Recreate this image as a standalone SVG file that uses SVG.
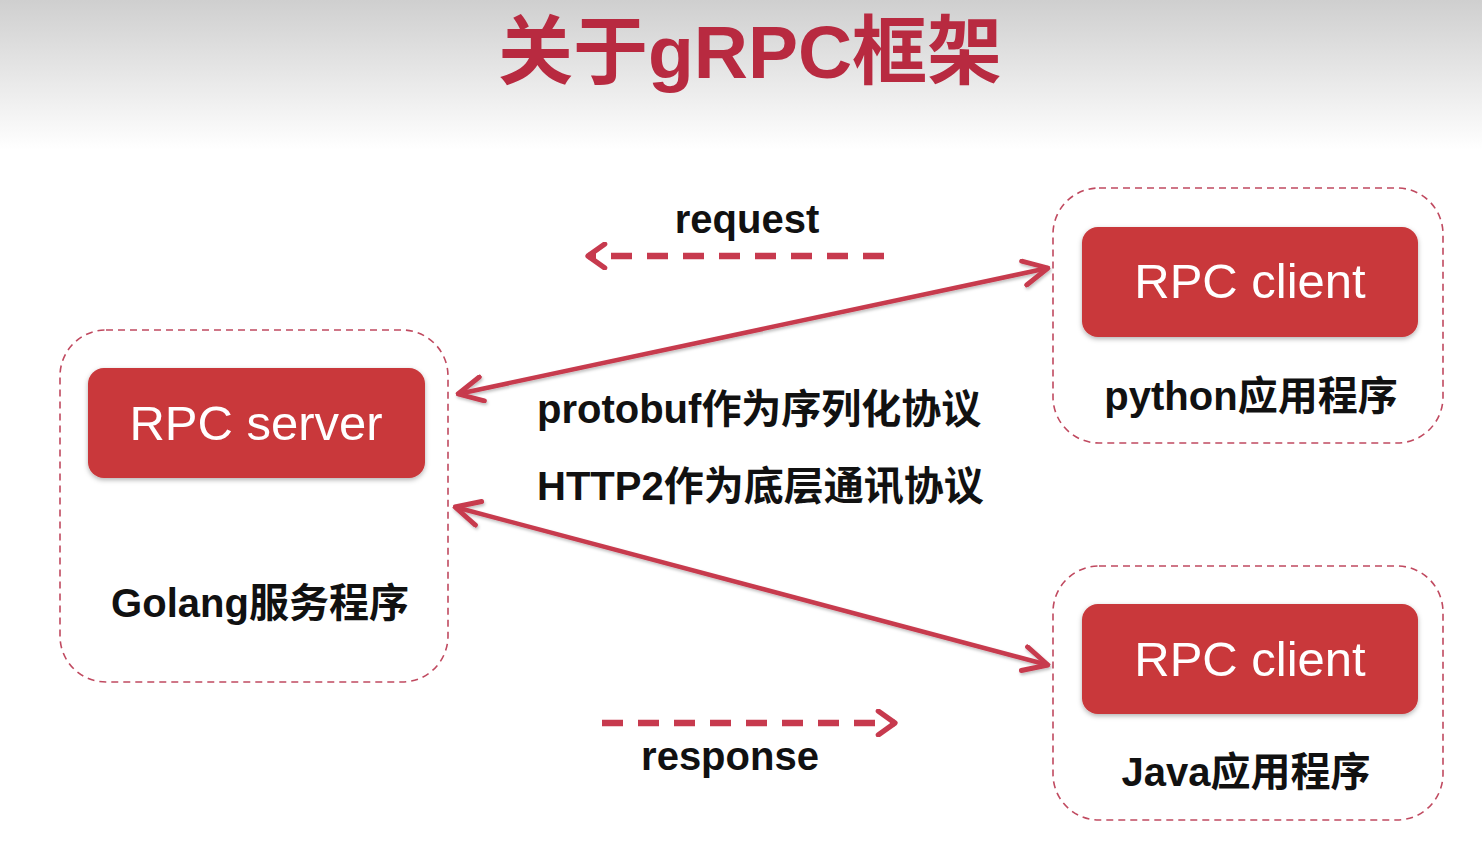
<svg xmlns="http://www.w3.org/2000/svg" width="1482" height="841" viewBox="0 0 1482 841">
<defs>
<linearGradient id="hdr" x1="0" y1="0" x2="0" y2="1">
<stop offset="0" stop-color="#cfcfcf"/>
<stop offset="1" stop-color="#ffffff"/>
</linearGradient>
<filter id="sh" x="-10%" y="-10%" width="120%" height="130%">
<feDropShadow dx="0" dy="2" stdDeviation="2.5" flood-color="#000" flood-opacity="0.3"/>
</filter>
<filter id="lsh" x="-5%" y="-20%" width="110%" height="140%">
<feDropShadow dx="1" dy="2" stdDeviation="1.5" flood-color="#000" flood-opacity="0.25"/>
</filter>
<marker id="ah" viewBox="0 0 12 12" refX="11" refY="6" markerWidth="6.5" markerHeight="6.5" orient="auto-start-reverse" markerUnits="strokeWidth">
<path d="M1,1 L11,6 L1,11" fill="none" stroke="#c73a4e" stroke-width="2" stroke-linecap="round" stroke-linejoin="round"/>
</marker>
<marker id="ahd" viewBox="0 0 12 12" refX="10" refY="6" markerWidth="4.4" markerHeight="4.4" orient="auto" markerUnits="strokeWidth">
<path d="M3,1 L10,6 L3,11" fill="none" stroke="#c73a4e" stroke-width="2.2" stroke-linecap="round" stroke-linejoin="round"/>
</marker>
</defs>
<style>
.outer{fill:#fff;stroke:#c04a60;stroke-width:1.6;stroke-dasharray:7 5}
.redbox{fill:#c9373a;filter:url(#sh)}
.btn{font-family:"Liberation Sans","Noto Sans CJK SC",sans-serif;fill:#fff;font-size:49px;text-anchor:middle}
.lbl{font-family:"Liberation Sans","Noto Sans CJK SC",sans-serif;font-weight:bold;fill:#111;font-size:40px}
.mid{text-anchor:middle}
.conn{fill:none;stroke:#c73a4e;stroke-width:4.5;filter:url(#lsh)}
.dash{fill:none;stroke:#c73a4e;stroke-width:6.5;stroke-dasharray:21 15}
</style>
<rect x="0" y="0" width="1482" height="150" fill="url(#hdr)"/>
<rect x="0" y="150" width="1482" height="691" fill="#fff"/>
<text x="750" y="78" font-family="Liberation Sans,'Noto Sans CJK SC',sans-serif" font-weight="bold" font-size="75" fill="#b82a40" text-anchor="middle">关于gRPC框架</text>

<g id="server">
<rect class="outer" x="60" y="330" width="388" height="352" rx="46"/>
<rect class="redbox" x="88" y="368" width="337" height="110" rx="16"/>
<text class="btn" x="256" y="440">RPC server</text>
<text class="lbl mid" x="260" y="617">Golang服务程序</text>
</g>

<g id="client-python">
<rect class="outer" x="1053" y="188" width="390" height="255" rx="46"/>
<rect class="redbox" x="1082" y="227" width="336" height="110" rx="16"/>
<text class="btn" x="1250" y="298">RPC client</text>
<text class="lbl mid" x="1251" y="410">python应用程序</text>
</g>

<g id="client-java">
<rect class="outer" x="1053" y="566" width="390" height="254" rx="46"/>
<rect class="redbox" x="1082" y="604" width="336" height="110" rx="16"/>
<text class="btn" x="1250" y="676">RPC client</text>
<text class="lbl mid" x="1246" y="786">Java应用程序</text>
</g>

<g id="connectors">
<line class="conn" x1="458" y1="394" x2="1048" y2="268" marker-start="url(#ah)" marker-end="url(#ah)"/>
<line class="conn" x1="455" y1="507" x2="1048" y2="665" marker-start="url(#ah)" marker-end="url(#ah)"/>
<line class="dash" x1="884" y1="256" x2="588" y2="256" marker-end="url(#ahd)"/>
<line class="dash" x1="602" y1="723" x2="895" y2="723" marker-end="url(#ahd)"/>
</g>

<g id="labels">
<text class="lbl mid" x="747" y="233" font-size="38">request</text>
<text class="lbl mid" x="730" y="770" font-size="38">response</text>
<text class="lbl" x="537" y="423" font-size="41.5">protobuf作为序列化协议</text>
<text class="lbl" x="537" y="500" font-size="41.5">HTTP2作为底层通讯协议</text>
</g>
</svg>
